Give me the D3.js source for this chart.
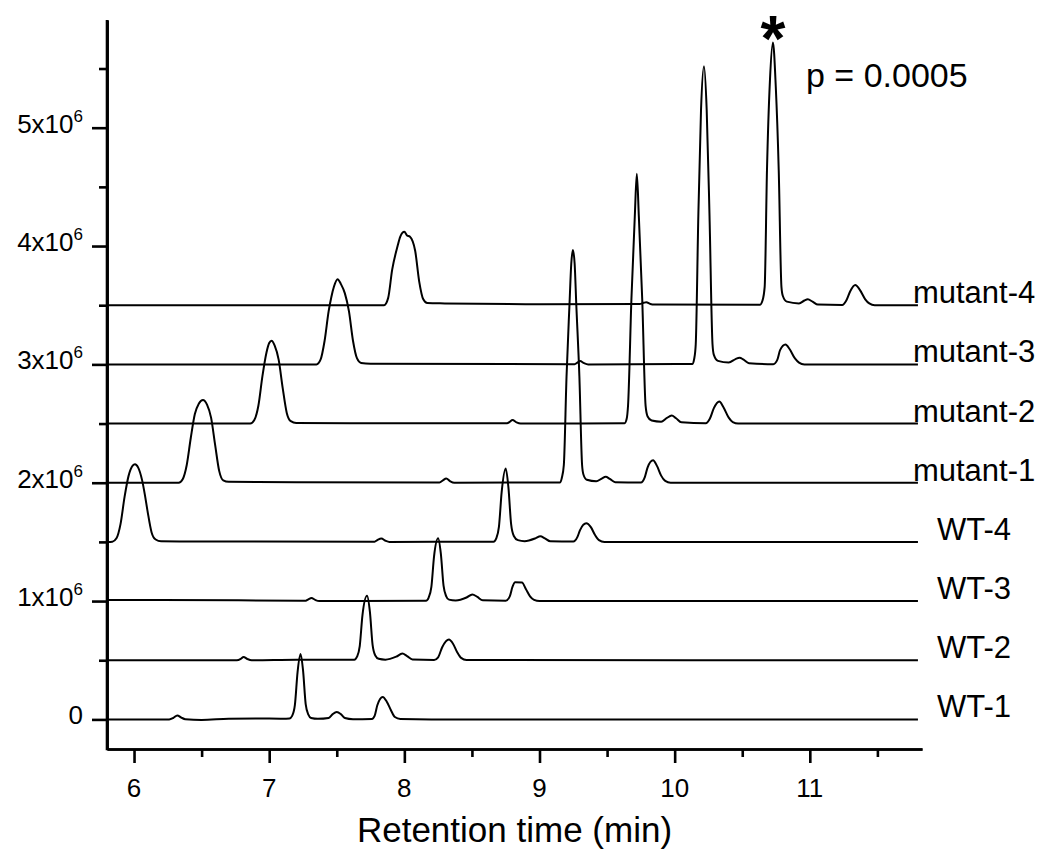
<!DOCTYPE html>
<html><head><meta charset="utf-8">
<script src="https://cdn.jsdelivr.net/npm/d3@7"></script>
<style>
body{margin:0;background:#fff}
svg{display:block}
text{font-family:"Liberation Sans",Arial,Helvetica,sans-serif;fill:#000}
</style>
</head><body>
<svg id="c" width="1050" height="866"></svg>
<script>
// ---- data (time in min, intensity in units of 1e6, relative to each trace's offset) ----
const sampleNames = ["WT-1","WT-2","WT-3","WT-4","mutant-1","mutant-2","mutant-3","mutant-4"];
const offsets = [0, 0.5, 1.0, 1.5, 2.0, 2.5, 3.0, 3.5]; // x10^6 vertical offsets

const wt1 = [[5.80,0],[6.00,0],[6.26,0],[6.29,0.012],[6.32,0.034],[6.35,0.015],[6.38,0.002],[6.50,-0.004],[6.70,0.006],[6.90,0.008],[7.10,0.006],[7.15,0.008],[7.17,0.03],[7.19,0.12],[7.21,0.4],[7.232,0.552],[7.25,0.42],[7.27,0.13],[7.29,0.04],[7.31,0.012],[7.36,0.005],[7.44,0.012],[7.47,0.045],[7.50,0.062],[7.53,0.045],[7.56,0.012],[7.62,0.002],[7.76,0.004],[7.78,0.03],[7.80,0.12],[7.84,0.19],[7.87,0.15],[7.90,0.08],[7.93,0.02],[7.97,0.003],[8.20,0],[11.80,0]];
const wt2 = [[5.80,0],[6.76,0],[6.79,0.012],[6.81,0.028],[6.84,0.01],[6.87,0],[7.20,0.004],[7.63,0.004],[7.65,0.03],[7.67,0.12],[7.69,0.38],[7.724,0.544],[7.745,0.41],[7.765,0.13],[7.785,0.04],[7.81,0.012],[7.86,0.005],[7.94,0.03],[7.985,0.056],[8.02,0.035],[8.06,0.006],[8.22,0.003],[8.25,0.025],[8.28,0.11],[8.33,0.175],[8.36,0.14],[8.39,0.07],[8.42,0.02],[8.46,0.002],[11.80,0]];
const wt3 = [[5.80,0.01],[6.20,0.01],[7.27,0.003],[7.29,0.015],[7.313,0.026],[7.34,0.01],[7.37,0],[8.16,0.003],[8.18,0.03],[8.20,0.12],[8.22,0.38],[8.25,0.53],[8.27,0.40],[8.29,0.13],[8.31,0.04],[8.33,0.012],[8.38,0.005],[8.46,0.03],[8.503,0.056],[8.54,0.035],[8.58,0.006],[8.75,0.003],[8.78,0.04],[8.80,0.12],[8.82,0.158],[8.87,0.156],[8.90,0.1],[8.93,0.04],[8.96,0.01],[9.00,0],[11.80,0]];
const wt4 = [[5.80,0],[5.84,0.002],[5.87,0.03],[5.90,0.15],[5.93,0.38],[5.96,0.56],[5.99,0.645],[6.007,0.657],[6.03,0.63],[6.06,0.52],[6.08,0.40],[6.10,0.26],[6.13,0.08],[6.16,0.02],[6.20,0.005],[6.40,0.003],[7.78,0.002],[7.80,0.015],[7.83,0.028],[7.86,0.01],[7.89,0],[8.66,0.002],[8.68,0.03],[8.70,0.13],[8.72,0.42],[8.75,0.62],[8.77,0.46],[8.79,0.15],[8.81,0.05],[8.84,0.015],[8.89,0.006],[8.97,0.03],[9.006,0.048],[9.04,0.03],[9.08,0.005],[9.25,0.003],[9.28,0.04],[9.30,0.1],[9.346,0.158],[9.38,0.125],[9.41,0.06],[9.44,0.015],[9.48,0],[11.80,0]];
const mut1 = [[5.80,0],[6.33,0],[6.36,0.03],[6.39,0.15],[6.42,0.38],[6.45,0.58],[6.48,0.67],[6.51,0.70],[6.54,0.66],[6.57,0.55],[6.60,0.32],[6.63,0.1],[6.66,0.02],[6.70,0.008],[7.20,0.005],[8.26,0.002],[8.285,0.02],[8.31,0.036],[8.34,0.012],[8.37,0],[9.15,0.002],[9.165,0.04],[9.18,0.15],[9.20,0.9],[9.222,1.51],[9.235,1.85],[9.247,1.967],[9.26,1.85],[9.272,1.51],[9.295,0.9],[9.315,0.15],[9.325,0.07],[9.35,0.025],[9.42,0.012],[9.46,0.035],[9.49,0.05],[9.52,0.032],[9.56,0.005],[9.75,0.002],[9.78,0.05],[9.80,0.13],[9.84,0.19],[9.87,0.14],[9.90,0.06],[9.93,0.015],[9.97,0],[11.80,0]];
const mut2 = [[5.80,0],[6.86,0],[6.89,0.03],[6.92,0.15],[6.95,0.4],[6.98,0.6],[7.00,0.68],[7.018,0.70],[7.04,0.66],[7.07,0.54],[7.10,0.3],[7.13,0.09],[7.16,0.02],[7.20,0.005],[7.60,0.003],[8.76,0.002],[8.78,0.015],[8.80,0.03],[8.83,0.01],[8.86,0],[9.63,0.003],[9.645,0.04],[9.655,0.15],[9.68,1.05],[9.705,1.75],[9.72,2.11],[9.735,1.75],[9.76,1.05],[9.785,0.15],[9.80,0.06],[9.83,0.025],[9.90,0.015],[9.94,0.045],[9.978,0.068],[10.01,0.045],[10.05,0.01],[10.23,0.002],[10.26,0.04],[10.29,0.13],[10.33,0.186],[10.36,0.14],[10.40,0.05],[10.43,0.012],[10.47,0],[11.80,0]];
const mut3 = [[5.80,0],[7.35,0],[7.38,0.04],[7.41,0.2],[7.44,0.45],[7.46,0.57],[7.48,0.66],[7.506,0.72],[7.53,0.68],[7.56,0.6],[7.59,0.45],[7.62,0.2],[7.65,0.05],[7.68,0.012],[7.75,0.005],[9.26,0.002],[9.28,0.015],[9.30,0.028],[9.33,0.01],[9.36,0],[10.13,0.003],[10.145,0.05],[10.156,0.17],[10.175,1.25],[10.195,2.15],[10.217,2.52],[10.237,2.15],[10.258,1.25],[10.28,0.17],[10.29,0.08],[10.32,0.03],[10.40,0.015],[10.45,0.045],[10.48,0.056],[10.51,0.04],[10.55,0.01],[10.73,0.002],[10.76,0.04],[10.78,0.12],[10.82,0.167],[10.85,0.13],[10.89,0.05],[10.92,0.015],[10.96,0],[11.80,0]];
const mut4 = [[5.80,0],[7.85,0],[7.88,0.06],[7.91,0.3],[7.95,0.5],[7.97,0.58],[8.00,0.62],[8.02,0.59],[8.04,0.58],[8.08,0.46],[8.11,0.2],[8.14,0.05],[8.17,0.018],[8.30,0.015],[9.00,0.008],[9.74,0.01],[9.77,0.02],[9.79,0.025],[9.82,0.01],[9.85,0.005],[10.63,0.003],[10.65,0.04],[10.666,0.155],[10.683,1.14],[10.705,1.9],[10.727,2.22],[10.748,1.85],[10.77,1.14],[10.79,0.155],[10.80,0.08],[10.83,0.03],[10.92,0.015],[10.96,0.04],[10.985,0.05],[11.02,0.03],[11.06,0.005],[11.24,0.002],[11.27,0.04],[11.30,0.12],[11.336,0.17],[11.37,0.13],[11.41,0.05],[11.44,0.015],[11.48,0],[11.80,0]];
const traces = [wt1, wt2, wt3, wt4, mut1, mut2, mut3, mut4];

const xMajorTicks = [6, 7, 8, 9, 10, 11];
const xMinorTicks = [6.5, 7.5, 8.5, 9.5, 10.5, 11.5];
const yMajorTicks = [0, 1, 2, 3, 4, 5];          // x10^6
const yMinorTicks = [0.5, 1.5, 2.5, 3.5, 4.5, 5.5];
const xTitle = "Retention time (min)";
const starPeak = [10.727, 3.5 + 2.22];            // peak marked with *
const pText = "p = 0.0005";

// ---- drawing ----
const svg = d3.select("#c");
const x = d3.scaleLinear().domain([5.8, 11.83]).range([107, 922]);
const y = d3.scaleLinear().domain([-0.25e6, 5.91e6]).range([749, 20]);

const line = d3.line().curve(d3.curveMonotoneX);

traces.forEach((tr, i) => {
  const off = offsets[i];
  svg.append("path")
    .attr("d", line.x(d => x(d[0])).y(d => y((d[1] + off) * 1e6))(tr))
    .attr("fill", "none").attr("stroke", "#000").attr("stroke-width", 2)
    .attr("stroke-linejoin", "round");
  const last = tr[tr.length - 1];
  const isMut = sampleNames[i].startsWith("mutant");
  svg.append("text")
    .attr("x", x(last[0]) + (isMut ? -5 : 19))
    .attr("y", y(off * 1e6) - 2)
    .attr("font-size", 31)
    .text(sampleNames[i]);
});

// axes
const axisW = 2.6;
const gx = svg.append("g").attr("transform", `translate(0,${y.range()[0]})`);
gx.call(d3.axisBottom(x).tickValues(xMajorTicks).tickSize(14).tickSizeOuter(0).tickFormat(""));
gx.call(g => g.append("g").call(d3.axisBottom(x).tickValues(xMinorTicks).tickSize(8).tickSizeOuter(0).tickFormat("")));
gx.selectAll("path.domain").attr("stroke-width", axisW).attr("stroke", "#000");
gx.selectAll(".tick line").attr("stroke-width", axisW).attr("stroke", "#000");
xMajorTicks.forEach(v => {
  svg.append("text").attr("x", x(v)).attr("y", 797).attr("text-anchor", "middle")
    .attr("font-size", 26).text(v);
});

const gy = svg.append("g").attr("transform", `translate(${x.range()[0]},0)`);
gy.call(d3.axisLeft(y).tickValues(yMajorTicks.map(v => v * 1e6)).tickSize(15).tickSizeOuter(0).tickFormat(""));
gy.call(g => g.append("g").call(d3.axisLeft(y).tickValues(yMinorTicks.map(v => v * 1e6)).tickSize(8).tickSizeOuter(0).tickFormat("")));
gy.selectAll("path.domain").attr("stroke-width", axisW).attr("stroke", "#000");
gy.selectAll(".tick line").attr("stroke-width", axisW).attr("stroke", "#000");
svg.append("line").attr("x1", x.range()[0]).attr("x2", x.range()[0])
  .attr("y1", y.range()[1]).attr("y2", y.range()[0] + axisW / 2)
  .attr("stroke", "#000").attr("stroke-width", axisW);

yMajorTicks.forEach(v => {
  const t = svg.append("text").attr("x", 83).attr("y", y(v * 1e6) + 5)
    .attr("text-anchor", "end").attr("font-size", 26);
  if (v === 0) { t.text("0"); }
  else {
    t.append("tspan").text(v + "x10");
    t.append("tspan").attr("dy", -11).attr("font-size", 17).text("6");
  }
});

svg.append("text").attr("x", (x.range()[0] + x.range()[1]) / 2).attr("y", 842)
  .attr("text-anchor", "middle").attr("font-size", 35).text(xTitle);

// annotation
svg.append("text").attr("x", x(starPeak[0])).attr("y", y(starPeak[1] * 1e6) + 19)
  .attr("text-anchor", "middle").attr("font-size", 64).attr("font-weight", "bold").text("*");
svg.append("text").attr("x", 806).attr("y", 87).attr("font-size", 34).text(pText);
</script>
</body></html>
